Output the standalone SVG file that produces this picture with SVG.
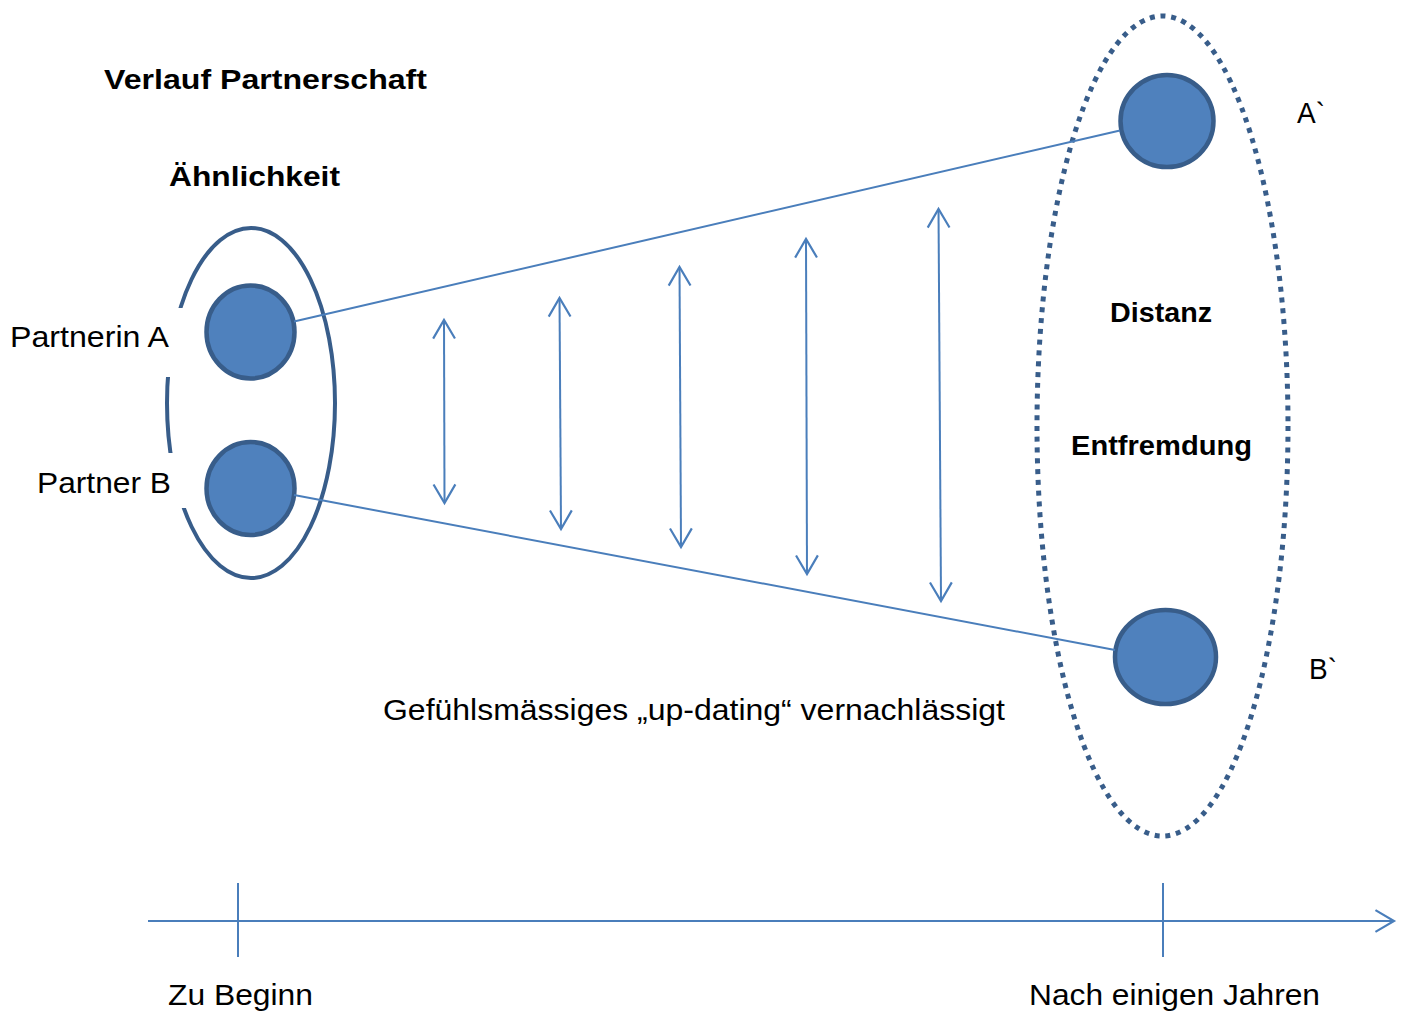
<svg xmlns="http://www.w3.org/2000/svg" width="1404" height="1012" viewBox="0 0 1404 1012">
<defs>
<style>
.t{font-family:"Liberation Sans",Arial,sans-serif;font-size:29px;fill:#000}
.b{font-weight:bold;font-size:28px}
.conn{stroke:#4A7EBB;stroke-width:2;fill:none}
.dot{fill:#4F81BD;stroke:#385D8A;stroke-width:4.5}
</style>
<marker id="oa" markerUnits="userSpaceOnUse" markerWidth="24" markerHeight="24" viewBox="0 0 20 22" refX="17" refY="10" orient="auto-start-reverse" overflow="visible">
<path d="M0,0 L17,10 L0,20" fill="none" stroke="#4A7EBB" stroke-width="2"/>
</marker>
</defs>
<rect width="1404" height="1012" fill="#fff"/>
<g id="title"><text class="t b" x="104" y="89" textLength="323" lengthAdjust="spacingAndGlyphs">Verlauf Partnerschaft</text></g>
<g id="group-start">
<ellipse cx="251" cy="403" rx="84" ry="175" fill="none" stroke="#385D8A" stroke-width="4"/>
<rect x="0" y="308" width="183" height="69" fill="#fff"/>
<rect x="0" y="453" width="186" height="55" fill="#fff"/>
<text class="t b" x="169" y="186" textLength="171" lengthAdjust="spacingAndGlyphs">Ähnlichkeit</text>
</g>
<g id="node-A"><ellipse class="dot" cx="250.5" cy="332" rx="44" ry="46.5"/><text class="t" x="10" y="347" textLength="159" lengthAdjust="spacingAndGlyphs">Partnerin A</text></g>
<g id="node-B"><ellipse class="dot" cx="250.5" cy="488.5" rx="44" ry="46.5"/><text class="t" x="37" y="493" textLength="134" lengthAdjust="spacingAndGlyphs">Partner B</text></g>
<g id="group-end">
<ellipse cx="1162.5" cy="426" rx="125.5" ry="410" fill="none" stroke="#385D8A" stroke-width="5" stroke-dasharray="5 5.8"/>
<text class="t b" x="1110" y="322" textLength="102" lengthAdjust="spacingAndGlyphs">Distanz</text>
<text class="t b" x="1071" y="455" textLength="181" lengthAdjust="spacingAndGlyphs">Entfremdung</text>
</g>
<g id="node-A2"><ellipse class="dot" cx="1167" cy="121" rx="46.5" ry="46"/><text class="t" x="1297" y="123" textLength="28" lengthAdjust="spacingAndGlyphs">A`</text></g>
<g id="node-B2"><ellipse class="dot" cx="1165.5" cy="657" rx="50.5" ry="47"/><text class="t" x="1309" y="679" textLength="28" lengthAdjust="spacingAndGlyphs">B`</text></g>
<g id="connectors">
<line class="conn" x1="294" y1="321.5" x2="1120" y2="130.5"/>
<line class="conn" x1="294" y1="495" x2="1115" y2="650"/>
<line class="conn" x1="444" y1="320" x2="444.5" y2="503" marker-start="url(#oa)" marker-end="url(#oa)"/>
<line class="conn" x1="559.5" y1="298" x2="561" y2="529" marker-start="url(#oa)" marker-end="url(#oa)"/>
<line class="conn" x1="679.5" y1="267" x2="681" y2="547" marker-start="url(#oa)" marker-end="url(#oa)"/>
<line class="conn" x1="806" y1="239" x2="807" y2="574" marker-start="url(#oa)" marker-end="url(#oa)"/>
<line class="conn" x1="938.5" y1="209" x2="941" y2="601" marker-start="url(#oa)" marker-end="url(#oa)"/>
</g>
<g id="axis">
<line class="conn" x1="148" y1="921" x2="1394" y2="921" marker-end="url(#oa)"/>
<line class="conn" x1="238" y1="883" x2="238" y2="957"/>
<line class="conn" x1="1163" y1="883" x2="1163" y2="957"/>
<text class="t" x="168" y="1005" textLength="145" lengthAdjust="spacingAndGlyphs">Zu Beginn</text>
<text class="t" x="1029" y="1005" textLength="291" lengthAdjust="spacingAndGlyphs">Nach einigen Jahren</text>
</g>
<g id="caption"><text class="t" x="383" y="720" textLength="622" lengthAdjust="spacingAndGlyphs">Gefühlsmässiges „up-dating“ vernachlässigt</text></g>
</svg>
